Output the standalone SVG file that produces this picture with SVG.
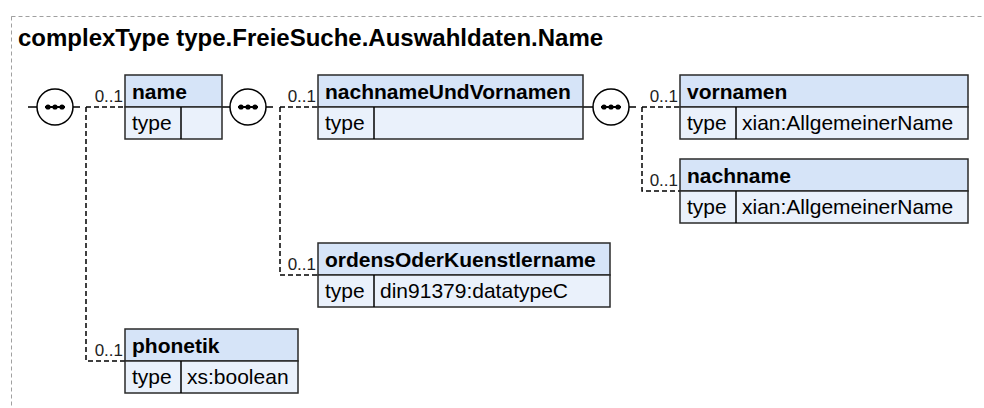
<svg xmlns="http://www.w3.org/2000/svg" width="984" height="408" viewBox="0 0 984 408">
<defs>
<style>
.frame{fill:none;stroke:#a0a0a0;stroke-width:1;stroke-dasharray:4,3}
.title{font-family:"Liberation Sans",Arial,sans-serif;font-weight:bold;font-size:24px;fill:#000}
.hdr{fill:#d6e4f8;stroke:#2a2a2a;stroke-width:1.5}
.row{fill:#eaf1fb;stroke:#2a2a2a;stroke-width:1.5}
.sep{stroke:#000;stroke-width:1.5;fill:none}
.hname{font-family:"Liberation Sans",Arial,sans-serif;font-weight:bold;font-size:21px;fill:#000}
.rtxt{font-family:"Liberation Sans",Arial,sans-serif;font-size:21px;fill:#000}
.card{font-family:"Liberation Sans",Arial,sans-serif;font-size:17px;fill:#222;text-anchor:end}
.solid{stroke:#000;stroke-width:1.5;fill:none}
.dash{stroke:#000;stroke-width:1.5;fill:none;stroke-dasharray:5,3}
.seqc{fill:#fff;stroke:#000;stroke-width:1.5}
.dot{fill:#000}
</style>
<g id="seqsym">
<circle class="seqc" cx="0" cy="0" r="18"/>
<line x1="-10" y1="0" x2="10" y2="0" stroke="#000" stroke-width="2"/>
<circle class="dot" cx="-7" cy="0" r="2.6"/>
<circle class="dot" cx="0" cy="0" r="2.6"/>
<circle class="dot" cx="7" cy="0" r="2.6"/>
</g>
</defs>
<rect class="frame" x="11.5" y="16.5" width="1000" height="500"/>
<text class="title" x="18" y="46">complexType type.FreieSuche.Auswahldaten.Name</text>

<g id="connectors">
<path class="solid" d="M28,107 H37 M73,107 H80"/>
<path class="dash" d="M86,107 H125 M86,107 V361 H125"/>
<path class="solid" d="M222,107 H230 M266,107 H273"/>
<path class="dash" d="M280,107 H318 M280,107 V275 H318"/>
<path class="solid" d="M583,107 H593 M629,107 H636"/>
<path class="dash" d="M642,107 H680 M642,107 V191 H680"/>
<text class="card" x="123" y="102">0..1</text>
<text class="card" x="316" y="102">0..1</text>
<text class="card" x="678" y="102">0..1</text>
<text class="card" x="678" y="186">0..1</text>
<text class="card" x="316" y="270">0..1</text>
<text class="card" x="123" y="356">0..1</text>
</g>

<g id="seq1"><use href="#seqsym" x="55" y="107"/></g>
<g id="seq2"><use href="#seqsym" x="248" y="107"/></g>
<g id="seq3"><use href="#seqsym" x="611" y="107"/></g>

<g id="node-name">
<rect class="hdr" x="125" y="75" width="97" height="32"/>
<rect class="row" x="125" y="107" width="97" height="32"/>
<line class="sep" x1="181" y1="107" x2="181" y2="139"/>
<text class="hname" x="132" y="99">name</text>
<text class="rtxt" x="132" y="130">type</text>
</g>

<g id="node-nachnameUndVornamen">
<rect class="hdr" x="318" y="75" width="265" height="32"/>
<rect class="row" x="318" y="107" width="265" height="32"/>
<line class="sep" x1="374" y1="107" x2="374" y2="139"/>
<text class="hname" x="325" y="99">nachnameUndVornamen</text>
<text class="rtxt" x="325" y="130">type</text>
</g>

<g id="node-vornamen">
<rect class="hdr" x="680" y="75" width="288" height="32"/>
<rect class="row" x="680" y="107" width="288" height="32"/>
<line class="sep" x1="736" y1="107" x2="736" y2="139"/>
<text class="hname" x="687" y="99">vornamen</text>
<text class="rtxt" x="687" y="130">type</text>
<text class="rtxt" x="742" y="130">xian:AllgemeinerName</text>
</g>

<g id="node-nachname">
<rect class="hdr" x="680" y="159" width="288" height="32"/>
<rect class="row" x="680" y="191" width="288" height="32"/>
<line class="sep" x1="736" y1="191" x2="736" y2="223"/>
<text class="hname" x="687" y="183">nachname</text>
<text class="rtxt" x="687" y="214">type</text>
<text class="rtxt" x="742" y="214">xian:AllgemeinerName</text>
</g>

<g id="node-ordensOderKuenstlername">
<rect class="hdr" x="318" y="243" width="292" height="32"/>
<rect class="row" x="318" y="275" width="292" height="32"/>
<line class="sep" x1="374" y1="275" x2="374" y2="307"/>
<text class="hname" x="325" y="267">ordensOderKuenstlername</text>
<text class="rtxt" x="325" y="298">type</text>
<text class="rtxt" x="380" y="298">din91379:datatypeC</text>
</g>

<g id="node-phonetik">
<rect class="hdr" x="125" y="329" width="173" height="32"/>
<rect class="row" x="125" y="361" width="173" height="32"/>
<line class="sep" x1="181" y1="361" x2="181" y2="393"/>
<text class="hname" x="132" y="353">phonetik</text>
<text class="rtxt" x="132" y="384">type</text>
<text class="rtxt" x="187" y="384">xs:boolean</text>
</g>
</svg>
